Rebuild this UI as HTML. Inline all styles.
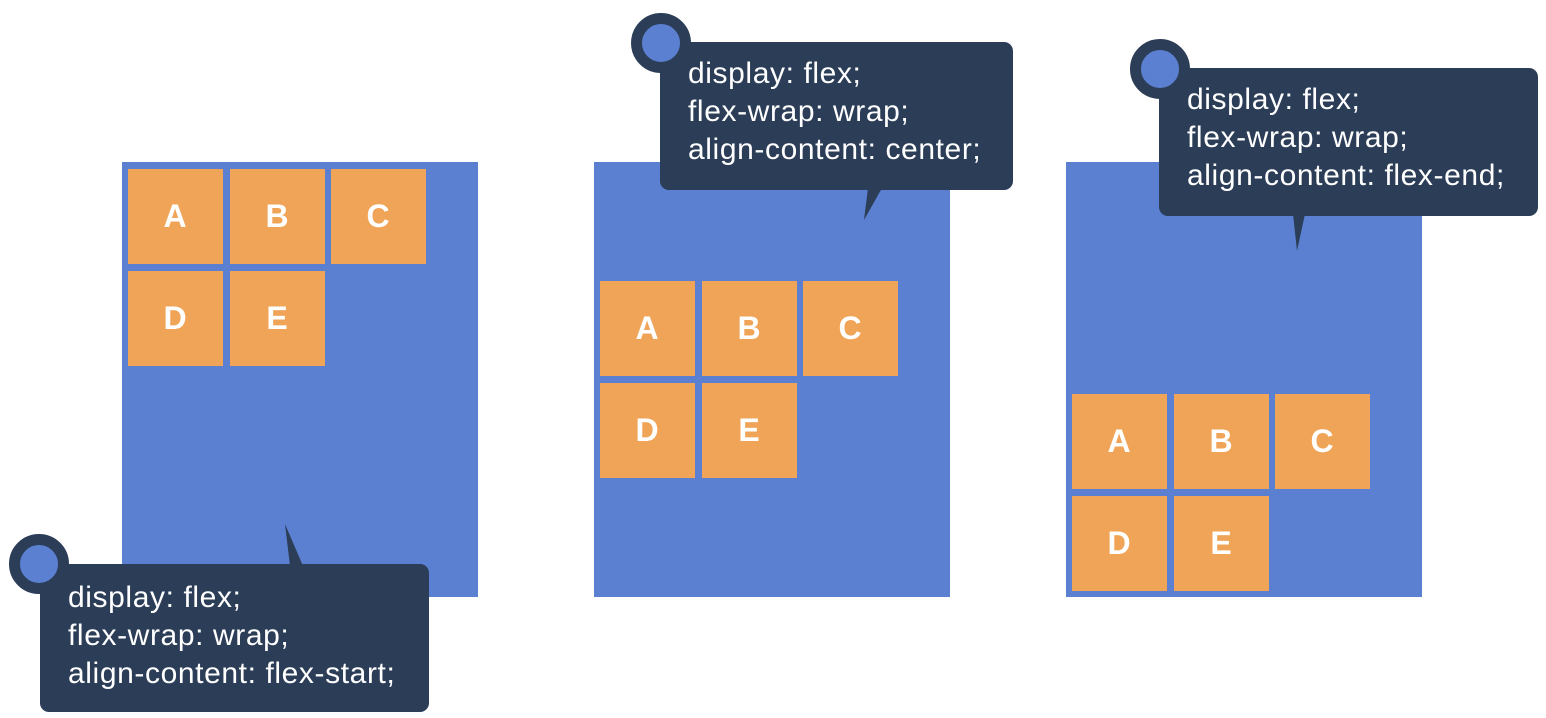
<!DOCTYPE html>
<html><head><style>
body{margin:0;width:1546px;height:718px;background:#fff;position:relative;overflow:hidden;font-family:"Liberation Sans","NanumGothic",sans-serif}
.p{position:absolute;background:#5b80d1;width:356px;height:435px;top:162px}
.b{position:absolute;width:95px;height:95px;background:#f0a457;color:#fff;font-weight:bold;font-size:32px;letter-spacing:1px;display:flex;align-items:center;justify-content:center}
.bub{position:absolute;background:#2b3d57;border-radius:9px;color:#fff;font-size:30px;letter-spacing:0.6px;line-height:38px;box-sizing:border-box;padding-left:28px;white-space:nowrap}
.c{position:absolute;width:38px;height:38px;border-radius:50%;background:#5b80d1;border:11px solid #2b3d57}
svg{position:absolute;left:0;top:0}
</style></head><body>
<div class="p" style="left:122px"></div>
<div class="p" style="left:594px"></div>
<div class="p" style="left:1066px"></div>

<div class="b" style="left:128px;top:169px">A</div>
<div class="b" style="left:230px;top:169px">B</div>
<div class="b" style="left:331px;top:169px">C</div>
<div class="b" style="left:128px;top:271px">D</div>
<div class="b" style="left:230px;top:271px">E</div>

<div class="b" style="left:600px;top:281px">A</div>
<div class="b" style="left:702px;top:281px">B</div>
<div class="b" style="left:803px;top:281px">C</div>
<div class="b" style="left:600px;top:383px">D</div>
<div class="b" style="left:702px;top:383px">E</div>

<div class="b" style="left:1072px;top:394px">A</div>
<div class="b" style="left:1174px;top:394px">B</div>
<div class="b" style="left:1275px;top:394px">C</div>
<div class="b" style="left:1072px;top:496px">D</div>
<div class="b" style="left:1174px;top:496px">E</div>

<svg width="1546" height="718">
<polygon points="285,524 290,566 303,566" fill="#2b3d57"/>
<polygon points="864,220 868,188 882,188" fill="#2b3d57"/>
<polygon points="1297,251 1293,214 1305,214" fill="#2b3d57"/>
</svg>

<div class="bub" style="left:40px;top:564px;width:389px;height:148px;padding-top:15px">display: flex;<br>flex-wrap: wrap;<br>align-content: flex-start;</div>
<div class="c" style="left:9px;top:534px"></div>

<div class="bub" style="left:660px;top:42px;width:353px;height:148px;padding-top:13px">display: flex;<br>flex-wrap: wrap;<br>align-content: center;</div>
<div class="c" style="left:631px;top:13px"></div>

<div class="bub" style="left:1159px;top:68px;width:379px;height:148px;padding-top:13px">display: flex;<br>flex-wrap: wrap;<br>align-content: flex-end;</div>
<div class="c" style="left:1130px;top:39px"></div>
</body></html>
